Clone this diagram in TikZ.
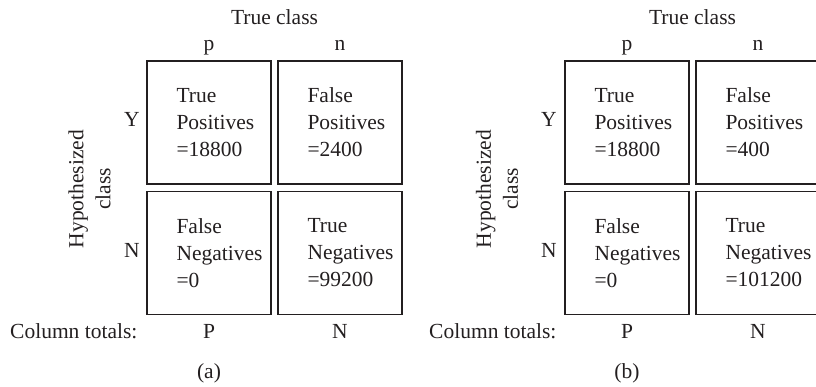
\documentclass[tikz,border=0pt]{standalone}
\usepackage{fontspec}
\setmainfont{Liberation Serif}
\definecolor{ink}{HTML}{231F20}
\begin{document}
\begin{tikzpicture}[x=1pt,y=-1pt,
  every node/.style={font=\fontsize{21.5}{27}\selectfont, text=ink, inner sep=0pt},
  cell/.style={draw=ink, line width=1.4pt, minimum width=124pt, minimum height=123pt},
  celltext/.style={align=left, anchor=west},
  lab/.style={anchor=base}]
\useasboundingbox (0,0) rectangle (816,387);
% ---------- panel (a) ----------
\node[cell] (atp) at (209,122.5) {};
\node[cell] (afp) at (340,122.5) {};
\node[cell] (afn) at (209,253) {};
\node[cell] (atn) at (340,253) {};
\node[celltext] (atpt) at ([xshift=30pt]atp.west) {True\\Positives\\=18800};
\node[celltext] (afpt) at ([xshift=30pt]afp.west) {False\\Positives\\=2400};
\node[celltext] (afnt) at ([xshift=30pt]afn.west) {False\\Negatives\\=0};
\node[celltext] (atnt) at ([xshift=30pt]atn.west) {True\\Negatives\\=99200};
\node[lab] (atc) at (274.5,25) {True class};
\node[lab] (ap) at (209,51) {p};
\node[lab] (an) at (340,51) {n};
\node[lab] (ay) at (132,127) {Y};
\node[lab] (aN) at (132,258) {N};
\node[rotate=90, align=center] (ahyp) at (89.5,189) {Hypothesized\\class};
\node[lab, anchor=base west] (act) at (10,338) {Column totals:};
\node[lab] (aP) at (209,338) {P};
\node[lab] (aNN) at (340,338) {N};
\node[lab] (acap) at (209,378) {(a)};
% ---------- panel (b) ----------
\node[cell] (btp) at (627,122.5) {};
\node[cell] (bfp) at (758,122.5) {};
\node[cell] (bfn) at (627,253) {};
\node[cell] (btn) at (758,253) {};
\node[celltext] (btpt) at ([xshift=30pt]btp.west) {True\\Positives\\=18800};
\node[celltext] (bfpt) at ([xshift=30pt]bfp.west) {False\\Positives\\=400};
\node[celltext] (bfnt) at ([xshift=30pt]bfn.west) {False\\Negatives\\=0};
\node[celltext] (btnt) at ([xshift=30pt]btn.west) {True\\Negatives\\=101200};
\node[lab] (btc) at (692.5,25) {True class};
\node[lab] (bp) at (627,51) {p};
\node[lab] (bn) at (758,51) {n};
\node[lab] (by) at (549,127) {Y};
\node[lab] (bN) at (549,258) {N};
\node[rotate=90, align=center] (bhyp) at (497,189) {Hypothesized\\class};
\node[lab, anchor=base west] (bct) at (429,338) {Column totals:};
\node[lab] (bP) at (627,338) {P};
\node[lab] (bNN) at (758,338) {N};
\node[lab] (bcap) at (627,378) {(b)};
\end{tikzpicture}
\end{document}
